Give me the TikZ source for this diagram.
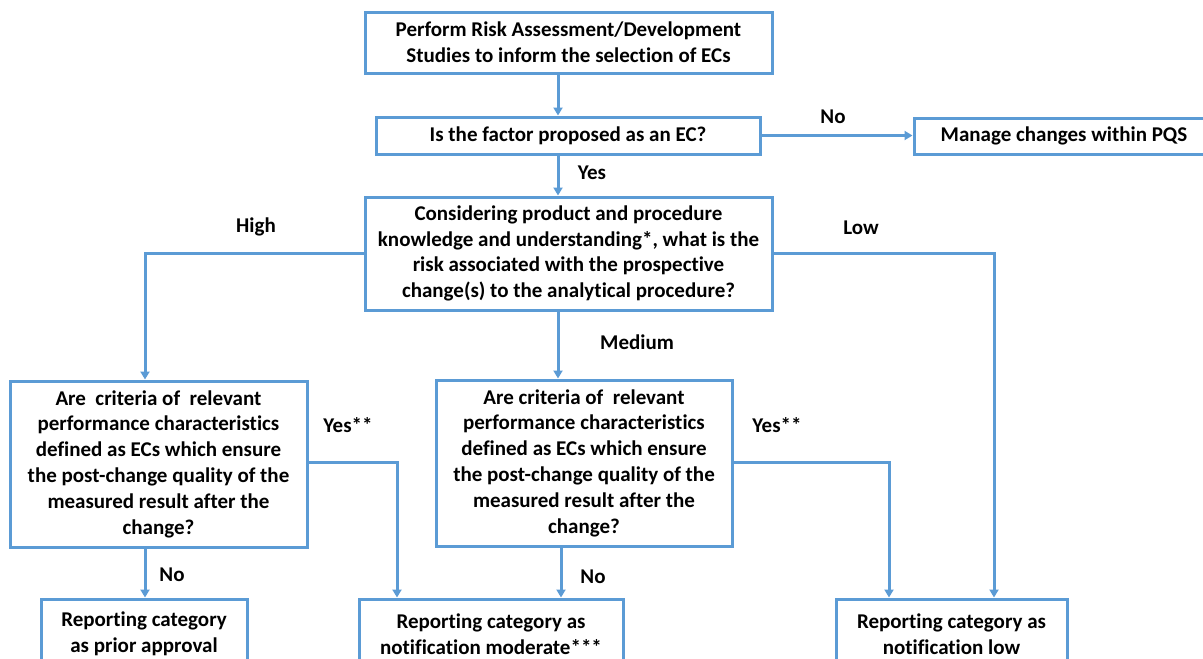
\documentclass[tikz,border=0pt]{standalone}
\usepackage{fontspec}
\setmainfont{Carlito}[Ligatures={NoCommon}]
\usetikzlibrary{arrows.meta}
\definecolor{flowblue}{RGB}{91,155,213}
\begin{document}
\begin{tikzpicture}[x=1pt,y=-1pt,
  box/.style={draw=flowblue,line width=3pt,fill=white,align=center,inner sep=0pt,
    font=\bfseries\fontsize{21}{25.8}\selectfont},
  lbl/.style={inner sep=0pt,font=\bfseries\fontsize{21}{25.8}\selectfont},
  arr/.style={draw=flowblue,line width=3pt,-{Triangle[length=8pt,width=9pt]}}]
\path[use as bounding box] (0,0) rectangle (1203,659);
\clip (0,0) rectangle (1203,659);
\fill[white] (0,0) rectangle (1203,659);

\node[box,minimum width=407pt,minimum height=61pt] (n1) at (568.5,42.5)
  {Perform Risk Assessment/Development\\Studies to inform the selection of ECs};
\node[box,minimum width=384pt,minimum height=37pt] (n2) at (568,135.5)
  {Is the factor proposed as an EC?};
\node[box,minimum width=300pt,minimum height=36pt] (n3) at (1064,136)
  {Manage changes within PQS};
\node[box,minimum width=407pt,minimum height=113pt] (n4) at (568.5,253.5)
  {Considering product and procedure\\knowledge and understanding*, what is the\\risk associated with the prospective\\change(s) to the analytical procedure?};
\node[box,minimum width=297pt,minimum height=166pt] (n5) at (158.5,464)
  {Are\ \ criteria of\ \ relevant\\performance characteristics\\defined as ECs which ensure\\the post-change quality of the\\measured result after the\\change?};
\node[box,minimum width=296pt,minimum height=166pt] (n6) at (584,463)
  {Are criteria of\ \ relevant\\performance characteristics\\defined as ECs which ensure\\the post-change quality of the\\measured result after the\\change?};
\node[box,minimum width=206pt,minimum height=70pt] (n7) at (144,634)
  {Reporting category\\as prior approval};
\node[box,minimum width=264pt,minimum height=70pt] (n8) at (491,634)
  {Reporting category as\\notification moderate***};
\node[box,minimum width=231pt,minimum height=70pt] (n9) at (951.5,634)
  {Reporting category as\\notification low};

\coordinate (cx) at (558,0);
\coordinate (mx) at (561,0);
\coordinate (hx) at (145,0);
\coordinate (lx) at (994,0);
\coordinate (y1) at (397,0);
\coordinate (y2) at (889,0);
\coordinate (hy) at (0,253);
\coordinate (yy) at (0,462);

\draw[arr] (n1.south -| cx) -- (n2.north -| cx);
\draw[arr] (n2.east) -- (n2.east -| n3.west);
\draw[arr] (n2.south -| cx) -- (n4.north -| cx);
\draw[arr] (n4.west |- hy) -| (n5.north -| hx);
\draw[arr] (n4.east |- hy) -| (n9.north -| lx);
\draw[arr] (n4.south -| cx) -- (n6.north -| cx);
\draw[arr] (n5.south -| hx) -- (n7.north -| hx);
\draw[arr] (n5.east |- yy) -| (n8.north -| y1);
\draw[arr] (n6.south -| mx) -- (n8.north -| mx);
\draw[arr] (n6.east |- yy) -| (n9.north -| y2);

\node[lbl] (lno1) at (833,117) {No};
\node[lbl] (lyes) at (592,173) {Yes};
\node[lbl] (lhigh) at (256,227) {High};
\node[lbl] (llow) at (861,228) {Low};
\node[lbl] (lmed) at (637,342) {Medium};
\node[lbl] (lyes1) at (348,425) {Yes**};
\node[lbl] (lyes2) at (777,425) {Yes**};
\node[lbl] (lno2) at (172,575) {No};
\node[lbl] (lno3) at (593,577) {No};
\end{tikzpicture}
\end{document}
